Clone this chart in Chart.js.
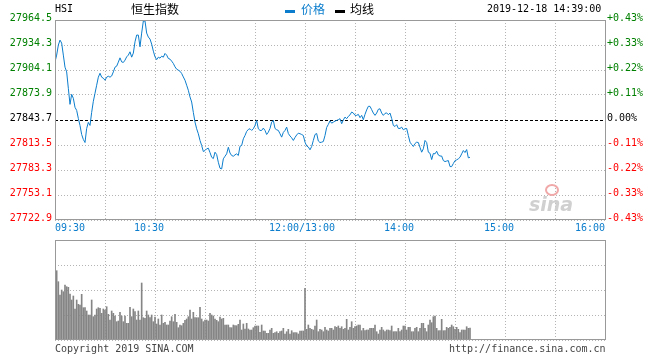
<!DOCTYPE html>
<html><head><meta charset="utf-8">
<script src="https://cdn.jsdelivr.net/npm/chart.js@4.4.1/dist/chart.umd.min.js"></script>
<style>
html,body{margin:0;padding:0;background:#fff;}
body{width:660px;height:360px;position:relative;overflow:hidden;font-family:"DejaVu Sans Mono",monospace;}
.t{position:absolute;white-space:pre;font-size:10px;line-height:10px;color:#000;}
.c{position:absolute;white-space:pre;font-family:"Noto Sans CJK SC",sans-serif;font-size:12px;line-height:12px;}
#c1{position:absolute;left:0;top:0;}
#c2{position:absolute;left:0;top:230px;}
.bar{position:absolute;width:10px;height:3px;}
</style></head><body>
<canvas id="c1" width="660" height="240"></canvas>
<canvas id="c2" width="660" height="130"></canvas>
<div class="t" style="left:55px;top:4px;">HSI</div>
<div class="c" style="left:131px;top:3px;color:#000;">恒生指数</div>
<div class="bar" style="left:285px;top:10px;background:#0b7dcc;"></div>
<div class="c" style="left:301px;top:3px;color:#0b7dcc;">价格</div>
<div class="bar" style="left:335px;top:10px;background:#000;"></div>
<div class="c" style="left:350px;top:3px;color:#000;">均线</div>
<div class="t" style="left:487px;top:4px;">2019-12-18 14:39:00</div>
<div class="t" style="left:55px;top:344px;color:#444;">Copyright 2019 SINA.COM</div>
<div class="t" style="left:449px;top:344px;color:#444;">http://finance.sina.com.cn</div>
<div style="position:absolute;left:545px;top:184px;width:10px;height:8px;border:2px solid #f0a8a8;border-radius:50%;"></div>
<div style="position:absolute;left:529px;top:194px;font-family:'DejaVu Sans',sans-serif;font-style:italic;font-weight:bold;font-size:19px;line-height:20px;color:#d0d0d0;">sina</div>
<script>
const prevClose = 27843.7;
const priceTicks = [27722.9, 27753.1, 27783.3, 27813.5, 27843.7, 27873.9, 27904.1, 27934.3, 27964.5];
const pctLabels = ['-0.43%','-0.33%','-0.22%','-0.11%','0.00%','+0.11%','+0.22%','+0.33%','+0.43%'];
const gridMinutes = [0,30,60,90,120,150,180,210,240,270,300,330];
const timeTickMinutes = [0,60,150,210,270,330];
const timeTickLabels = ['09:30','10:30','12:00/13:00','14:00','15:00','16:00'];
const volumeTicks = [0,25,50,75,100];

// one value per minute from 09:30 (minute 0) to 14:39
const price = [
 27913.9,27922.1,27934.2,27940.2,27936.6,27922.1,27907.5,27901.8,27882.0,27862.6,
 27874.7,27869.9,27859.0,27855.3,27845.6,27837.1,27826.2,27820.2,27816.5,27833.5,
 27840.8,27837.1,27852.9,27866.3,27876.0,27885.7,27895.4,27900.2,27895.4,27894.2,
 27891.7,27895.4,27896.6,27895.4,27896.9,27901.8,27907.5,27908.7,27913.6,27918.8,
 27913.9,27913.2,27916.0,27920.0,27922.1,27926.1,27919.6,27924.5,27938.2,27946.3,
 27946.3,27932.1,27948.7,27963.3,27963.3,27948.7,27943.9,27941.5,27935.4,27926.9,
 27920.0,27916.6,27919.6,27918.4,27920.8,27919.6,27924.1,27922.1,27918.0,27917.2,
 27914.8,27912.0,27907.9,27905.1,27903.9,27902.6,27899.9,27895.7,27891.7,27885.7,
 27879.6,27871.5,27865.4,27852.9,27841.1,27833.1,27827.1,27819.0,27812.9,27805.6,
 27806.8,27808.9,27809.6,27804.4,27798.7,27797.1,27804.8,27802.0,27792.6,27785.4,
 27784.6,27796.8,27799.9,27802.8,27810.8,27803.8,27800.8,27799.9,27801.6,27802.8,
 27800.8,27812.0,27812.9,27821.0,27825.0,27829.9,27832.3,27833.1,27831.1,27833.1,
 27837.1,27843.2,27833.1,27831.1,27831.1,27833.9,27831.1,27826.2,27829.0,27833.5,
 27841.1,27843.2,27833.5,27831.9,27831.1,27827.1,27823.0,27828.7,27831.1,27835.1,
 27827.4,27824.4,27822.2,27819.0,27822.6,27825.6,27827.8,27827.1,27826.2,27825.0,
 27816.9,27812.3,27811.1,27807.7,27811.7,27819.0,27826.2,27827.4,27818.3,27816.5,
 27816.9,27817.7,27825.0,27834.7,27838.4,27842.6,27839.9,27841.1,27842.4,27843.2,
 27844.1,27845.3,27839.2,27843.8,27847.2,27845.3,27848.1,27849.9,27853.3,27852.1,
 27849.3,27849.3,27850.5,27846.5,27849.3,27844.1,27850.5,27855.9,27860.2,27860.2,
 27856.2,27852.1,27849.3,27852.1,27856.6,27857.2,27852.1,27849.3,27851.7,27852.3,
 27850.1,27852.1,27845.6,27837.1,27835.9,27838.0,27833.5,27833.5,27835.1,27831.9,
 27833.1,27833.5,27825.0,27816.9,27814.1,27811.7,27815.3,27816.9,27816.5,27810.5,
 27804.8,27808.9,27819.0,27816.5,27804.8,27803.5,27795.9,27803.2,27802.8,27806.0,
 27801.4,27800.2,27800.2,27794.7,27793.5,27794.1,27794.7,27787.4,27787.4,27791.1,
 27794.7,27795.5,27796.8,27798.7,27802.8,27806.8,27804.4,27808.0,27798.0,27798.7
];

// relative volume per minute (panel full height = 100)
const volume = [
 null,69.3,58.3,45,50,48.3,55,53.3,52.7,46,
 40,44,31,40,35.7,35,45.7,32.3,32.3,29,
 25,25,40,23.3,25,31,32.3,31.7,26.7,31,
 30,33.3,25.7,20,29,26.7,24,18.3,19,27.7,
 24,18.3,24,16.7,16.7,32.7,23.3,31,28.3,20,
 29,20,57,22.3,21.7,29,25,22.3,25,18.3,
 23,16,21,15,25,16.7,17.7,15,15,19,
 23.3,18.3,25.7,17.7,12.3,15,14.3,16.7,19.7,21,
 23.3,30,21,27.7,22.3,22.3,22.3,32.7,21,18.3,
 20,20,19,26.7,25,24,21,19.7,18.3,23,
 21,21.7,15,15,15,12.3,12.3,15,14.3,14.3,
 15.7,20,10,16,11,16.7,11,10,10,12.3,
 14,14,14,7.7,15,9,9,6.7,6.7,10,
 11.7,6.7,7.3,8.3,6.7,8.3,9,11.7,6,8.3,
 10.7,6,9.3,7.3,7.3,7.3,6,9,9,9,
 51.7,10.7,15,11.7,10.7,10,14,20,8.3,10.7,
 10,8.3,12.7,10,9,11.7,11.7,10,13.3,12.7,
 14,11.7,13.3,10.7,11.7,20.7,10,12.7,18.3,11.7,
 13.3,14,15,15,9.3,11.7,9.3,10,10,11.7,
 11.7,11.7,15,8.3,6,10,12.7,10,8.3,10,
 10,9.3,14,8.3,8.3,8.3,11.7,8.3,10,14,
 14,10,12.7,12.7,8.3,8.3,11.7,12.7,8.3,11.7,
 16.7,16.7,11.7,8.3,15,20,17.3,23.3,24,11.7,
 9.3,9.3,20.7,9.3,9.3,12.7,11.7,12.7,15,13.3,
 10.7,12.7,10.7,7.3,10,10,10,13.3,11.7,12
];

const MONO = "DejaVu Sans Mono";
const GRID = '#b4b4b4';
const BLUE = '#0b7dcc';

const frame = {
  id: 'frame',
  afterDraw(chart) {
    const {ctx, chartArea: a} = chart;
    ctx.save();
    ctx.strokeStyle = '#999';
    ctx.lineWidth = 1;
    ctx.strokeRect(Math.round(a.left) + 0.5, Math.round(a.top) + 0.5,
      Math.round(a.right - a.left), Math.round(a.bottom - a.top) - 1);
    ctx.restore();
  }
};

function xScale(showLabels) {
  return {
    type: 'linear', min: 0, max: 330, offset: false,
    afterBuildTicks: s => { s.ticks = gridMinutes.map(v => ({value: v})); },
    afterFit: s => { s.height = showLabels ? 20 : 0; },
    grid: {color: GRID, drawTicks: false, offset: false},
    border: {display: false, dash: [1, 2]},
    ticks: {
      display: showLabels, autoSkip: false, maxRotation: 0, align: 'inner', padding: 2,
      color: BLUE, font: {family: MONO, size: 10},
      callback: v => {
        const i = timeTickMinutes.indexOf(v);
        if (i < 0) return '';
        const lab = timeTickLabels[i];
        if (i === 0 || i === timeTickMinutes.length - 1) return lab;
        return lab + (lab.length > 5 ? ' ' : '  ');
      }
    }
  };
}

Chart.defaults.animation = false;

new Chart(document.getElementById('c1'), {
  type: 'line',
  data: {
    datasets: [{
      data: price.map((v, i) => ({x: i, y: v})),
      borderColor: BLUE, borderWidth: 1, pointRadius: 0, tension: 0, fill: false
    }]
  },
  options: {
    responsive: false,
    layout: {padding: {top: 20, left: 0, right: 0, bottom: 0}},
    plugins: {legend: {display: false}, tooltip: {enabled: false}},
    scales: {
      x: xScale(true),
      y: {
        position: 'left', min: priceTicks[0], max: priceTicks[priceTicks.length - 1],
        afterBuildTicks: s => { s.ticks = priceTicks.map(v => ({value: v})); },
        afterFit: s => { s.width = 55; },
        grid: {
          drawTicks: false,
          color: c => (c.tick && Math.abs(c.tick.value - prevClose) < 0.01) ? '#000' : GRID
        },
        border: {
          display: false,
          dash: c => (c.tick && Math.abs(c.tick.value - prevClose) < 0.01) ? [3, 2] : [1, 2]
        },
        ticks: {
          padding: 3, labelOffset: -2, font: {family: MONO, size: 10},
          callback: v => v.toFixed(1),
          color: c => {
            const v = c.tick.value;
            if (Math.abs(v - prevClose) < 0.01) return '#000';
            return v > prevClose ? '#008000' : '#ff0000';
          }
        }
      },
      y2: {
        position: 'right', min: priceTicks[0], max: priceTicks[priceTicks.length - 1],
        afterBuildTicks: s => { s.ticks = priceTicks.map(v => ({value: v})); },
        afterFit: s => { s.width = 55; },
        grid: {drawOnChartArea: false, drawTicks: false},
        border: {display: false},
        ticks: {
          padding: 2, labelOffset: -2, font: {family: MONO, size: 10},
          callback: (v, i) => pctLabels[i],
          color: c => {
            const v = c.tick.value;
            if (Math.abs(v - prevClose) < 0.01) return '#000';
            return v > prevClose ? '#008000' : '#ff0000';
          }
        }
      }
    }
  },
  plugins: [frame]
});

new Chart(document.getElementById('c2'), {
  type: 'bar',
  data: {
    datasets: [{
      data: volume.map((v, i) => ({x: i, y: v})),
      backgroundColor: '#858585', borderWidth: 0, barThickness: 1, grouped: false
    }]
  },
  options: {
    responsive: false,
    layout: {padding: {top: 10, left: 0, right: 55, bottom: 20}},
    plugins: {legend: {display: false}, tooltip: {enabled: false}},
    scales: {
      x: xScale(false),
      y: {
        min: 0, max: 100,
        afterBuildTicks: s => { s.ticks = volumeTicks.map(v => ({value: v})); },
        afterFit: s => { s.width = 55; },
        grid: {color: GRID, drawTicks: false},
        border: {display: false, dash: [1, 2]},
        ticks: {display: false}
      }
    }
  },
  plugins: [frame]
});
</script>
</body></html>
